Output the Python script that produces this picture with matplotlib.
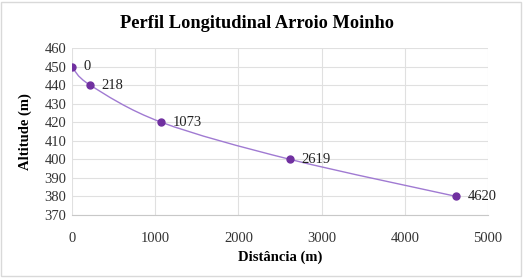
import matplotlib
matplotlib.use("Agg")
import matplotlib.pyplot as plt
from matplotlib.path import Path
from matplotlib.patches import PathPatch, Rectangle
import numpy as np

distance = [0, 218, 1073, 2619, 4620]
altitude = [450, 440, 420, 400, 380]
point_labels = ["0", "218", "1073", "2619", "4620"]
x_ticks = [0, 1000, 2000, 3000, 4000, 5000]
y_ticks = [370, 380, 390, 400, 410, 420, 430, 440, 450, 460]

plt.rcParams['font.family'] = ['Liberation Serif', 'DejaVu Serif']

fig = plt.figure(figsize=(5.28, 2.79), dpi=100)
ax = fig.add_axes([72/528, 1-215/279, (488-72)/528, (215-48)/279])

# outer chart border
fig.patches.append(Rectangle((1/528, 3/279), 520/528, 274/279, transform=fig.transFigure,
                             fill=False, edgecolor='#d9d9d9', linewidth=1.0))

# smoothed line (Catmull-Rom via cubic Bezier)
pts = np.column_stack([distance, altitude]).astype(float)
verts = [tuple(pts[0])]
codes = [Path.MOVETO]
n = len(pts)
for i in range(n - 1):
    p0 = pts[i - 1] if i > 0 else pts[i]
    p1 = pts[i]
    p2 = pts[i + 1]
    p3 = pts[i + 2] if i + 2 < n else pts[i + 1]
    c1 = p1 + (p2 - p0) / 6.0
    c2 = p2 - (p3 - p1) / 6.0
    verts += [tuple(c1), tuple(c2), tuple(p2)]
    codes += [Path.CURVE4] * 3
ax.add_patch(PathPatch(Path(verts, codes), facecolor='none', edgecolor='#a07ad2', linewidth=1.0, zorder=3))
ax.plot(distance, altitude, linestyle='none', marker='o', markersize=5, color='#7030a0', zorder=4)

for x, y, t in zip(distance, altitude, point_labels):
    ax.annotate(t, (x, y), xytext=(8, 0), textcoords='offset points', va='center', ha='left',
                fontsize=10.5, color='#222222')

ax.set_xlim(0, 5000)
ax.set_ylim(370, 460)
ax.set_xticks(x_ticks)
ax.set_yticks(y_ticks)
ax.grid(True, color='#e0e0e0', linewidth=0.8)
ax.set_axisbelow(True)
for s in ['top', 'right', 'left']:
    ax.spines[s].set_visible(False)
ax.spines['bottom'].set_color('#c8c8c8')
ax.tick_params(axis='both', length=0, labelsize=10.5, labelcolor='#333333')
ax.tick_params(axis='x', pad=12)
ax.tick_params(axis='y', pad=4)

fig.text(257/528, 1-23/279, 'Perfil Longitudinal Arroio Moinho', fontsize=13.2, fontweight='bold',
         ha='center', va='center')
ax.set_xlabel('Distância (m)', fontsize=10.5, fontweight='bold', labelpad=4)
ax.set_ylabel('Altitude (m)', fontsize=10.5, fontweight='bold', labelpad=9)

fig.savefig('out.png', dpi=100)
